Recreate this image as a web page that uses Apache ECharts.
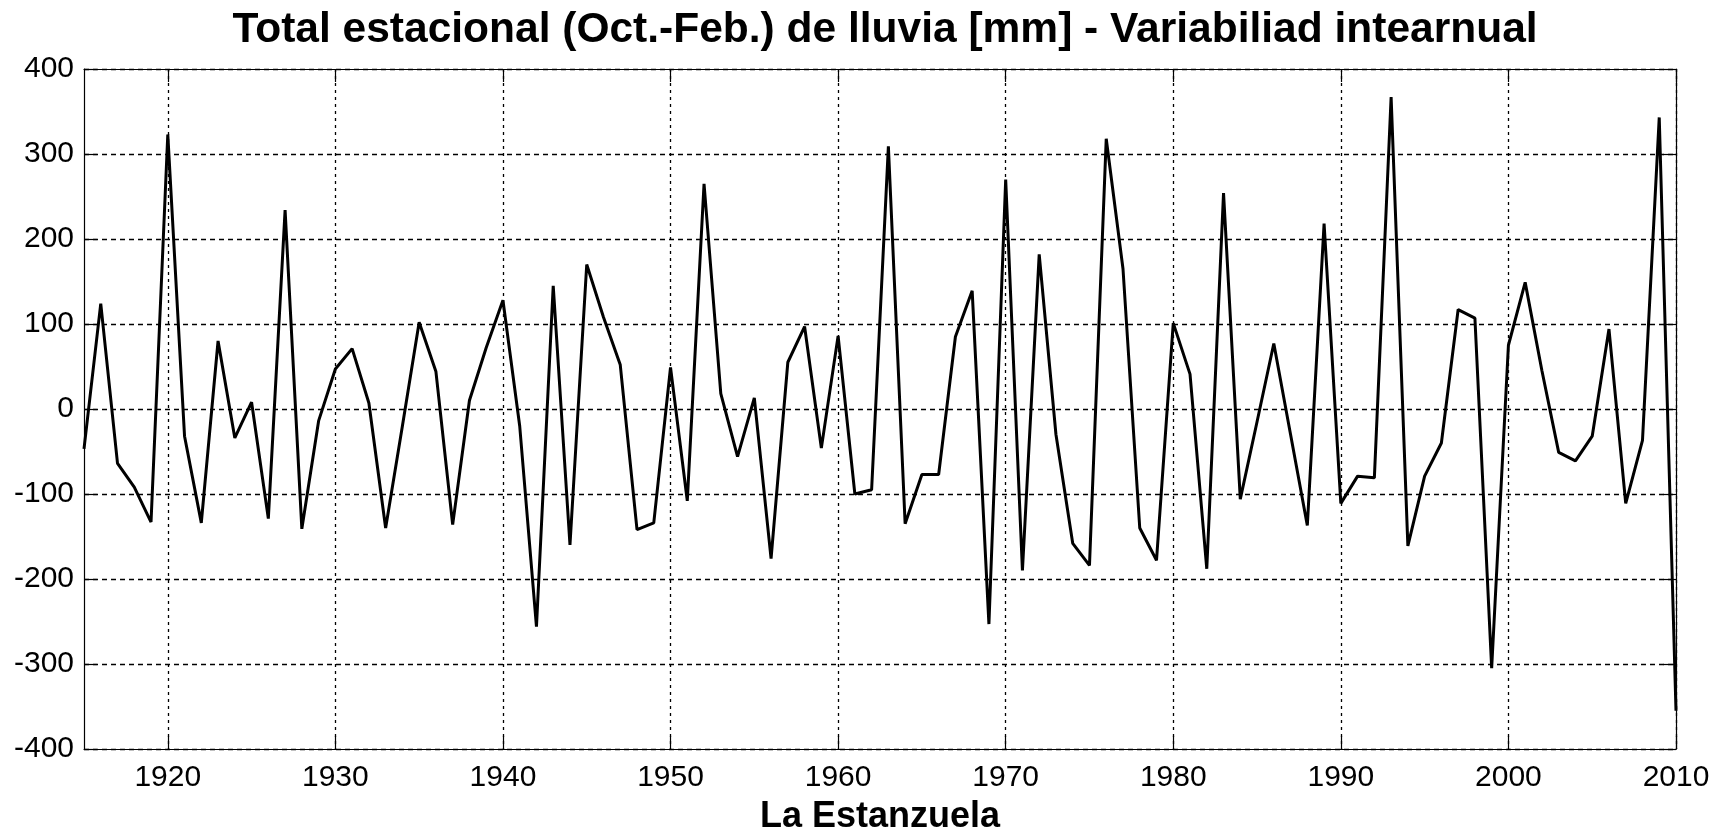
<!DOCTYPE html>
<html>
<head>
<meta charset="utf-8">
<title>Total estacional de lluvia - La Estanzuela</title>
<script src="https://cdn.jsdelivr.net/npm/echarts@6/dist/echarts.min.js"></script>
<style>
  html, body { margin: 0; padding: 0; background: #fff; }
  #chart { width: 1727px; height: 832px; }
</style>
</head>
<body>
<div id="chart"></div>
<script>
// Seasonal (Oct.-Feb.) rainfall anomaly, La Estanzuela [mm]
const years = [
  1915, 1916, 1917, 1918, 1919, 1920, 1921, 1922, 1923, 1924,
  1925, 1926, 1927, 1928, 1929, 1930, 1931, 1932, 1933, 1934,
  1935, 1936, 1937, 1938, 1939, 1940, 1941, 1942, 1943, 1944,
  1945, 1946, 1947, 1948, 1949, 1950, 1951, 1952, 1953, 1954,
  1955, 1956, 1957, 1958, 1959, 1960, 1961, 1962, 1963, 1964,
  1965, 1966, 1967, 1968, 1969, 1970, 1971, 1972, 1973, 1974,
  1975, 1976, 1977, 1978, 1979, 1980, 1981, 1982, 1983, 1984,
  1985, 1986, 1987, 1988, 1989, 1990, 1991, 1992, 1993, 1994,
  1995, 1996, 1997, 1998, 1999, 2000, 2001, 2002, 2003, 2004,
  2005, 2006, 2007, 2008, 2009, 2010
];
const rainAnomaly = [
   -47,  124,  -64,  -92, -133,  323,  -32, -134,   80,  -34,
     8, -129,  234, -141,  -14,   47,   71,    7, -140,  -20,
   102,   44, -136,   10,   72,  128,  -20, -256,  145, -160,
   170,  108,   52, -142, -134,   49, -108,  265,   18,  -56,
    13, -176,   55,   97,  -46,   86, -100,  -95,  309, -135,
   -77,  -77,   85,  139, -253,  270, -190,  182,  -30, -158,
  -184,  318,  165, -140, -178,  101,   41, -188,  254, -106,
   -15,   77,  -30, -137,  218, -111,  -79,  -81,  367, -161,
   -79,  -40,  117,  107, -305,   75,  149,   45,  -51,  -61,
   -32,   94, -111,  -37,  343, -355
];
const yearTicks = [1920, 1930, 1940, 1950, 1960, 1970, 1980, 1990, 2000, 2010];
const mmTicks = [-400, -300, -200, -100, 0, 100, 200, 300, 400];

const FONT = '"Liberation Sans", Arial, Helvetica, sans-serif';
const chart = echarts.init(document.getElementById('chart'), null, { renderer: 'canvas' });

const pairs = years.map((y, i) => [y, rainAnomaly[i]]);

chart.setOption({
  backgroundColor: '#ffffff',
  animation: false,
  title: {
    text: 'Total estacional (Oct.-Feb.) de lluvia [mm] - Variabiliad intearnual',
    left: 880,
    textAlign: 'center',
    top: 4,
    textStyle: { fontFamily: FONT, fontSize: 42.5, fontWeight: 'bold', color: '#000' }
  },
  grid: { left: 84, right: 51, top: 69, bottom: 83, containLabel: false, outerBoundsMode: 'none' },
  xAxis: [
    {
      type: 'value',
      min: years[0],
      max: years[years.length - 1],
      name: 'La Estanzuela',
      nameLocation: 'middle',
      nameGap: 50,
      nameTextStyle: { fontFamily: FONT, fontSize: 36, fontWeight: 'bold', color: '#000' },
      axisLine: { show: true, onZero: false, lineStyle: { color: '#000', width: 1.2 } },
      axisTick: { show: true, inside: true, length: 13, customValues: yearTicks, lineStyle: { color: '#000', width: 1.2 } },
      axisLabel: {
        show: true, customValues: yearTicks, margin: 14,
        formatter: (v) => String(v),
        fontFamily: FONT, fontSize: 30, color: '#000'
      },
      splitLine: { show: true, lineStyle: { color: '#000', width: 1.3, type: [3, 4] } }
    },
    {
      type: 'value',
      position: 'top',
      min: years[0],
      max: years[years.length - 1],
      axisLine: { show: true, onZero: false, lineStyle: { color: '#000', width: 1.2 } },
      axisTick: { show: true, inside: true, length: 13, customValues: yearTicks, lineStyle: { color: '#000', width: 1.2 } },
      axisLabel: { show: false },
      splitLine: { show: false }
    }
  ],
  yAxis: [
    {
      type: 'value',
      min: mmTicks[0],
      max: mmTicks[mmTicks.length - 1],
      interval: 100,
      axisLine: { show: true, onZero: false, lineStyle: { color: '#000', width: 1.2 } },
      axisTick: { show: true, inside: true, length: 13, lineStyle: { color: '#000', width: 1.2 } },
      axisLabel: { show: true, margin: 10, fontFamily: FONT, fontSize: 30, color: '#000' },
      splitLine: { show: true, lineStyle: { color: '#000', width: 1.3, type: [5, 4] } }
    },
    {
      type: 'value',
      position: 'right',
      min: mmTicks[0],
      max: mmTicks[mmTicks.length - 1],
      interval: 100,
      axisLine: { show: true, onZero: false, lineStyle: { color: '#000', width: 1.2 } },
      axisTick: { show: true, inside: true, length: 13, lineStyle: { color: '#000', width: 1.2 } },
      axisLabel: { show: false },
      splitLine: { show: false }
    }
  ],
  series: [
    {
      type: 'line',
      xAxisIndex: 0,
      yAxisIndex: 0,
      data: pairs,
      showSymbol: false,
      symbol: 'none',
      smooth: false,
      z: 5,
      lineStyle: { color: '#000', width: 3 }
    }
  ]
});
</script>
</body>
</html>
